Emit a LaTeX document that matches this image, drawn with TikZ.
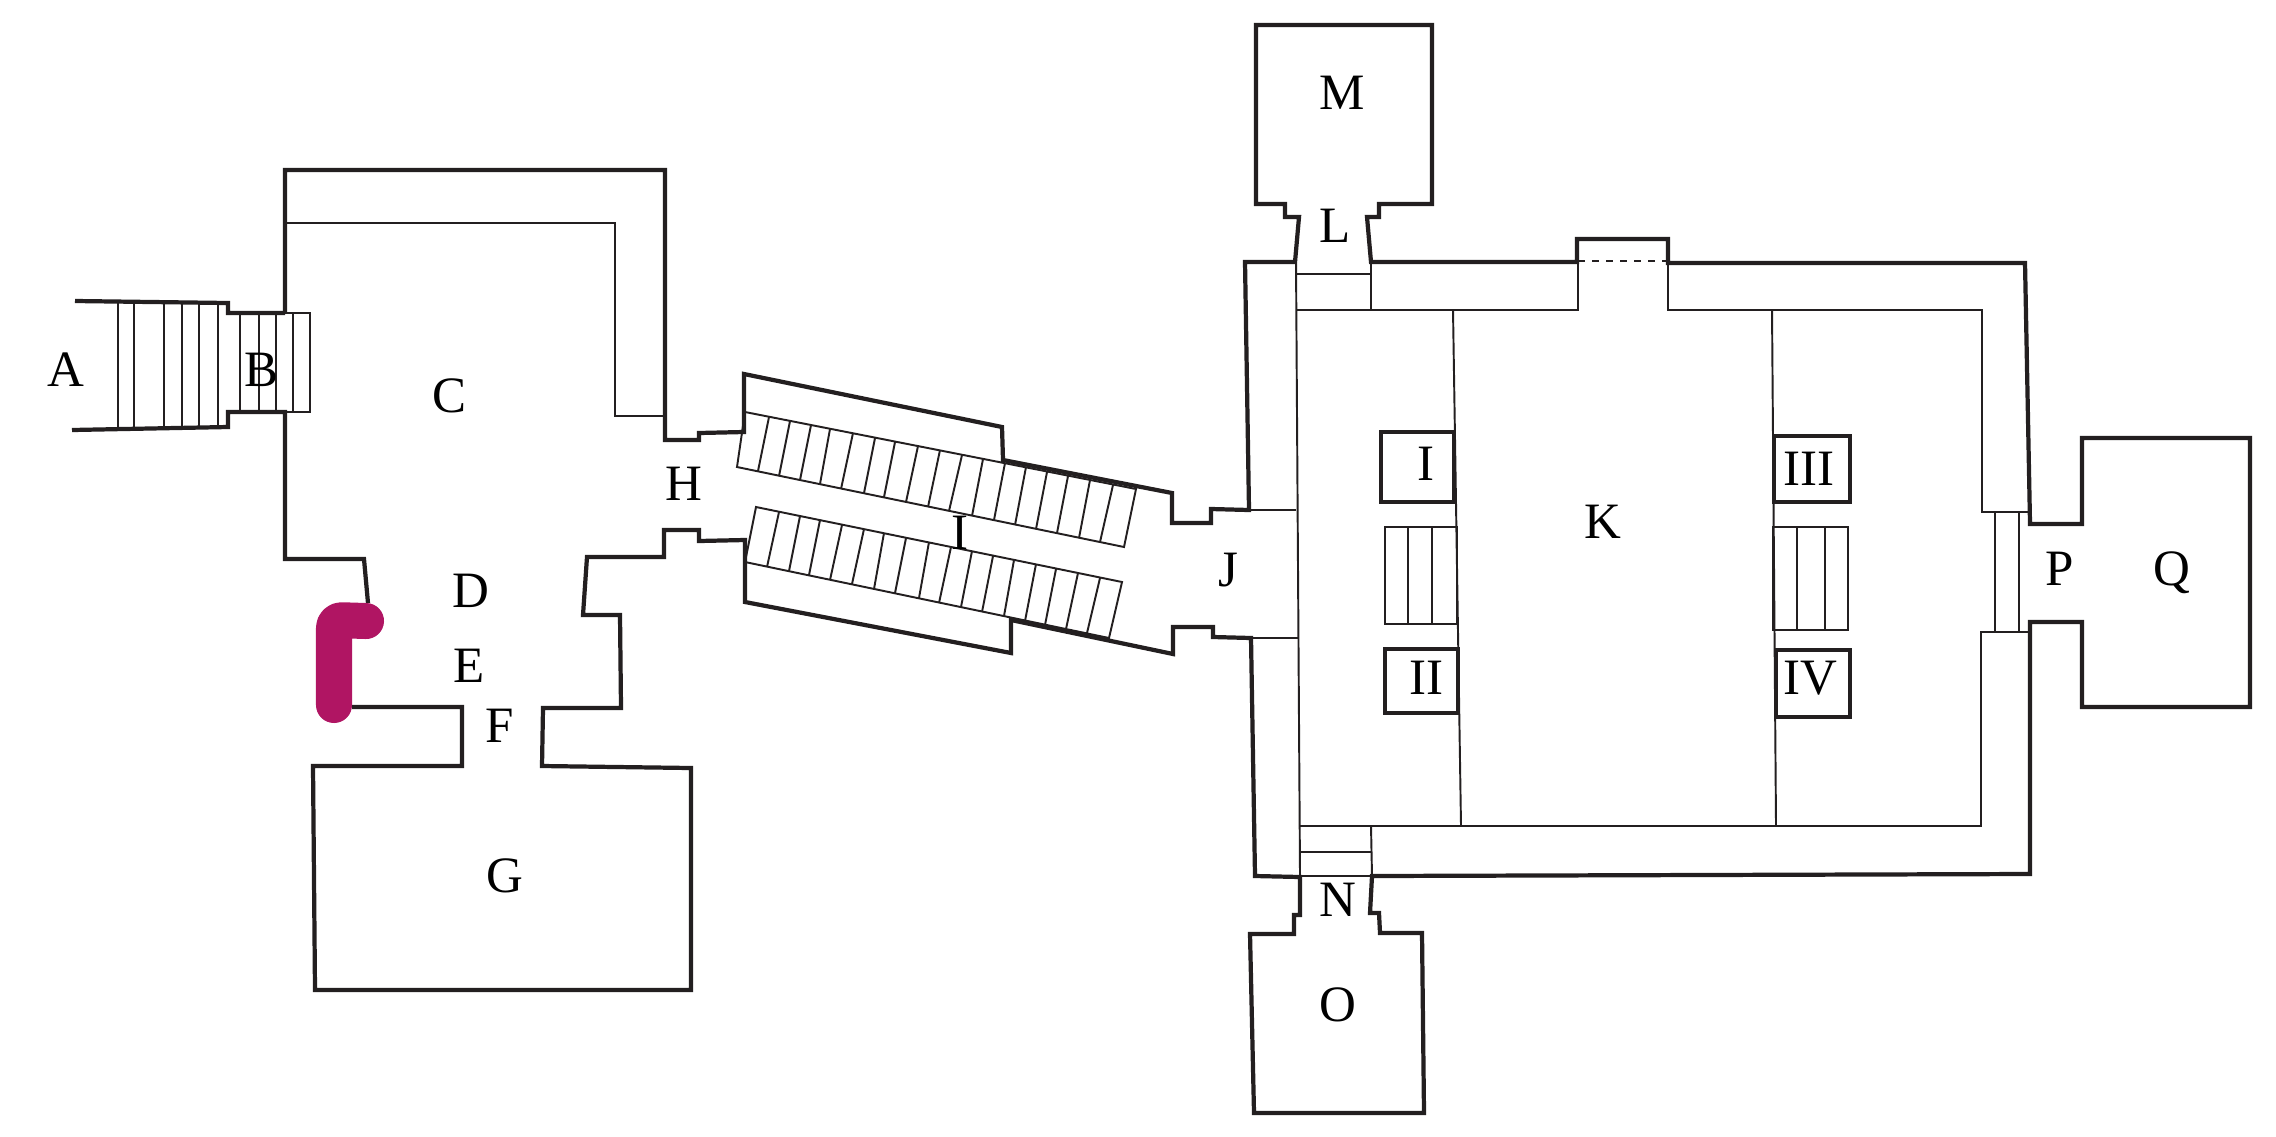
\documentclass[tikz,border=0pt]{standalone}
\usepackage{fontspec}
\setmainfont{Liberation Serif}
\definecolor{wallcol}{HTML}{231F20}
\definecolor{markcol}{HTML}{B01563}
\begin{document}
\begin{tikzpicture}[x=0.01cm,y=-0.01cm,
  wall/.style={draw=wallcol,line width=1.2pt},
  fine/.style={draw=wallcol,line width=0.55pt},
  lab/.style={anchor=base,inner sep=0pt,font=\fontsize{14.5pt}{17pt}\selectfont}]
\useasboundingbox (0,0) rectangle (2276,1136);
% outer walls
\draw [wall] (75,301)--(228,303)--(228,313)--(285,313);
\draw [wall] (72,430)--(228,427)--(228,412)--(285,412)--(285,559)--(364,559)--(368,603);
\draw [wall] (285,313)--(285,170)--(665,170)--(665,440)--(699,440)--(699,433)--(744,432)--(744,374)--(1002,427)--(1003,460)--(1172,493)--(1172,523)--(1211,523)--(1211,509)--(1249,510)--(1245,262)--(1295,262)--(1299,217)--(1285,217)--(1285,204)--(1256,204)--(1256,25)--(1432,25)--(1432,204)--(1379,204)--(1379,217)--(1367,217)--(1371,262)--(1577,262)--(1577,239)--(1668,239)--(1668,263)--(2025,263)--(2030,524)--(2082,524)--(2082,438)--(2250,438)--(2250,707)--(2082,707)--(2082,622)--(2030,622)--(2030,874)--(1372,876)--(1370,913)--(1379,913)--(1380,933)--(1422,933)--(1424,1113)--(1254,1113)--(1250,934)--(1294,934)--(1294,915)--(1300,915)--(1300,877)--(1255,876)--(1251,638)--(1213,637)--(1213,627)--(1173,627)--(1173,654)--(1011,620)--(1011,653)--(745,602)--(745,540)--(699,541)--(699,530)--(664,530)--(664,557)--(587,557)--(583,615)--(620,615)--(621,708)--(543,708)--(542,766)--(691,768)--(691,990)--(315,990)--(313,766)--(462,766)--(462,707)--(352,707);
% inner walls
\draw [fine] (285,223)--(615,223)--(615,416)--(665,416);
\draw [fine] (1296,262)--(1300,876);
\draw [fine] (1296,274)--(1371,274);
\draw [fine] (1371,262)--(1371,310);
\draw [fine] (1296,310)--(1578,310)--(1578,262);
\draw [fine, dash pattern=on 2pt off 2pt] (1578,261)--(1668,261);
\draw [fine] (1668,263)--(1668,310)--(1982,310)--(1982,512)--(2029,512);
\draw [fine] (2030,632)--(1981,632)--(1981,826)--(1300,826);
\draw [fine] (1453,310)--(1461,826);
\draw [fine] (1772,310)--(1776,826);
\draw [fine] (1371,826)--(1372,876);
\draw [fine] (1301,852)--(1371,852);
\draw [fine] (1301,876)--(1372,876);
\draw [fine] (1249,510)--(1296,510);
\draw [fine] (1251,638)--(1298,638);
\draw [fine] (1995,512)--(1995,632);
\draw [fine] (2019,512)--(2019,632);
% front stairs
\draw [fine] (118,302)--(118,428) (134,302)--(134,428) (164,302)--(164,427) (182,302)--(182,427) (199,303)--(199,427) (218,303)--(218,426);
\draw [fine] (285,313)--(310,313)--(310,412)--(285,412);
\draw [fine] (240,313)--(240,412) (259,313)--(259,412) (276,313)--(276,412) (293,313)--(293,412);
% upper ramp stairs
\draw [fine] (745,412)--(1136,489)--(1124,547)--(737,467)--cycle;
\draw [fine] (769,417)--(758,471) (790,421)--(779,476) (811,425)--(800,480) (830,429)--(820,484) (853,433)--(841,489) (875,438)--(864,493) (895,442)--(884,497) (918,446)--(906,502) (940,450)--(928,507) (962,455)--(949,511) (983,459)--(972,516) (1005,463)--(994,520) (1026,467)--(1015,525) (1047,472)--(1036,529) (1068,476)--(1057,533) (1090,480)--(1079,538) (1113,485)--(1100,542);
% lower ramp stairs
\draw [fine] (756,507)--(1122,582)--(1109,638)--(745,562)--cycle;
\draw [fine] (779,512)--(767,567) (800,516)--(789,571) (820,520)--(809,575) (842,525)--(830,580) (864,529)--(852,584) (884,533)--(874,589) (906,538)--(895,593) (929,542)--(919,598) (951,547)--(939,603) (972,551)--(961,607) (993,556)--(982,612) (1014,560)--(1004,616) (1036,564)--(1025,621) (1056,569)--(1045,625) (1078,573)--(1066,629) (1100,578)--(1087,633);
% side chambers and stairs
\draw [wall] (1385,649) rectangle (1458,713);
\draw [wall] (1381,432) rectangle (1454,502);
\draw [wall] (1774,436) rectangle (1850,502);
\draw [wall] (1776,650) rectangle (1850,717);
\draw [fine] (1385,527) rectangle (1457,624);
\draw [fine] (1408,527)--(1408,624) (1432,527)--(1432,624);
\draw [fine] (1773,527) rectangle (1848,630);
\draw [fine] (1797,527)--(1797,630) (1825,527)--(1825,630);
% marked stretch
\draw [markcol, line width=0.36cm, line cap=round, line join=round, rounded corners=0.08cm] (334,705)--(334,620)--(366,621);
% labels
\node [lab] (labA) at (66,386) {A};
\node [lab] (labB) at (262,386) {B};
\node [lab] (labC) at (449,412) {C};
\node [lab] (labD) at (471,607) {D};
\node [lab] (labE) at (469,682) {E};
\node [lab] (labF) at (500,742) {F};
\node [lab] (labG) at (505,892) {G};
\node [lab] (labH) at (684,500) {H};
\node [lab] (labI) at (960,549) {I};
\node [lab] (labJ) at (1228,586) {J};
\node [lab] (labK) at (1603,538) {K};
\node [lab] (labL) at (1335,242) {L};
\node [lab] (labM) at (1342,109) {M};
\node [lab] (labN) at (1338,916) {N};
\node [lab] (labO) at (1338,1021) {O};
\node [lab] (labP) at (2060,585) {P};
\node [lab] (labQ) at (2172,585) {Q};
\node [lab] (labRi) at (1426,480) {I};
\node [lab] (labRii) at (1426,694) {II};
\node [lab] (labRiii) at (1809,485) {III};
\node [lab] (labRiv) at (1810,694) {IV};
\end{tikzpicture}
\end{document}
